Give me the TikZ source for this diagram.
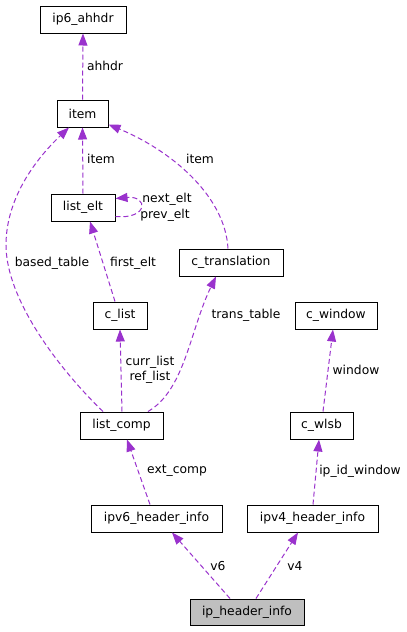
\documentclass[tikz,border=0pt]{standalone}
\usepackage{fontspec}
\setmainfont{DejaVu Sans}
\usetikzlibrary{arrows.meta,calc}
\definecolor{edgec}{HTML}{9A32CD}
\definecolor{grayfill}{HTML}{BFBFBF}
\tikzset{
  cls/.style={draw=black, line width=1pt, minimum height=27pt, inner sep=0pt, font=\fontsize{12.3}{14}\selectfont, text=black},
  rel/.style={draw=edgec, line width=1pt, dash pattern=on 5pt off 3pt, -{Triangle[length=12pt,width=9pt,fill=edgec]}},
  lbl/.style={font=\fontsize{12.3}{15.5}\selectfont, text=black, inner sep=0pt, align=center}
}
\begin{document}
\begin{tikzpicture}[x=1pt,y=-1pt]
\useasboundingbox (0,0) rectangle (407,632);
\fill[white] (0,0) rectangle (407,632);
% nodes
\node[cls, minimum width=86pt] (ahhdr) at (83,19.5) {ip6\_ahhdr};
\node[cls, minimum width=51pt] (item) at (82.5,113.5) {item};
\node[cls, minimum width=64pt] (listelt) at (83,207.5) {list\_elt};
\node[cls, minimum width=104pt] (ctrans) at (231,262.5) {c\_translation};
\node[cls, minimum width=54pt] (clist) at (120,315.5) {c\_list};
\node[cls, minimum width=82pt] (cwindow) at (336,315.5) {c\_window};
\node[cls, minimum width=83pt] (listcomp) at (121.5,425.5) {list\_comp};
\node[cls, minimum width=63pt] (cwlsb) at (321.5,425.5) {c\_wlsb};
\node[cls, minimum width=131pt] (ipv6) at (156.5,518.5) {ipv6\_header\_info};
\node[cls, minimum width=131pt] (ipv4) at (312.5,518.5) {ipv4\_header\_info};
\node[cls, minimum width=114pt, minimum height=26pt, fill=grayfill] (iphdr) at (247,612) {ip\_header\_info};
% edges
\draw[rel] (item.north) -- (ahhdr.south);
\node[lbl] (l1) at (105,66) {ahhdr};
\draw[rel] (listelt.north) -- (item.south);
\node[lbl] (l2) at (101,159) {item};
\draw[rel] ([xshift=-3pt]ctrans.north) .. controls (225,195) and (170,150) .. ([yshift=3pt]item.south east);
\node[lbl] (l3) at (200,159) {item};
\draw[rel] ([yshift=-9pt]listelt.east) .. controls +(33,3) and +(33,-3) .. ([yshift=9pt]listelt.east);
\node[lbl] (l4) at (167,199) {next\_elt};
\node[lbl] (l5) at (165,215) {prev\_elt};
\draw[rel] ([xshift=-18.5pt]listcomp.north) .. controls (60,370) and (6,300) .. (6,245) .. controls (6,195) and (40,155) .. ([xshift=-13.5pt]item.south);
\node[lbl] (l6) at (52,263) {based\_table};
\draw[rel] ([xshift=-5pt]clist.north) -- ([xshift=7pt]listelt.south);
\node[lbl] (l7) at (133,263) {first\_elt};
\draw[rel] ([xshift=0.5pt]listcomp.north) -- (clist.south);
\node[lbl] (l8) at (150,370) {curr\_list\\ref\_list};
\draw[rel] ([xshift=26.5pt]listcomp.north) .. controls (185,390) and (190,330) .. ([xshift=-15pt]ctrans.south);
\node[lbl] (l9) at (246,315) {trans\_table};
\draw[rel] ([xshift=1.5pt]cwlsb.north) -- ([xshift=-3pt]cwindow.south);
\node[lbl] (l10) at (356,370) {window};
\draw[rel] ([xshift=-6.5pt]ipv6.north) -- ([xshift=5.5pt]listcomp.south);
\node[lbl] (l11) at (177,471) {ext\_comp};
\draw[rel] ([xshift=0.5pt]ipv4.north) -- ([xshift=-2.5pt]cwlsb.south);
\node[lbl] (l12) at (360,471) {ip\_id\_window};
\draw[rel] ([xshift=-17pt]iphdr.north) -- ([xshift=15.5pt]ipv6.south);
\node[lbl] (l13) at (218,566) {v6};
\draw[rel] ([xshift=9pt]iphdr.north) -- ([xshift=-14.5pt]ipv4.south);
\node[lbl] (l14) at (295,566) {v4};
\end{tikzpicture}
\end{document}
